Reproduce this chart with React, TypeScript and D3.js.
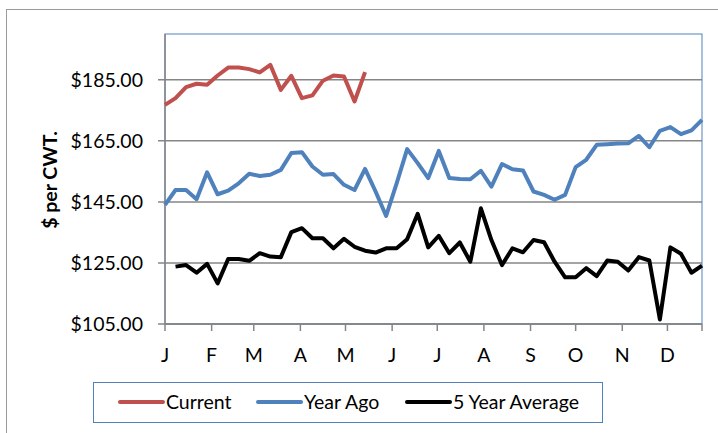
import React from 'react';
import * as d3 from 'd3';

// weekly prices, $ per CWT (one value per week, week 0 = Jan 1)
const currentValues: (number | null)[] = [
  176.8, 179.0, 182.6, 183.7, 183.4, 186.4, 189.0, 189.0, 188.5, 187.4,
  189.9, 181.7, 186.3, 179.0, 179.9, 184.7, 186.4, 186.1, 177.9, 187.5,
];

const yearAgoValues: (number | null)[] = [
  144.0, 148.9, 148.9, 145.9, 154.7, 147.5, 148.7, 151.1, 154.2, 153.5,
  153.9, 155.5, 161.0, 161.3, 156.6, 153.9, 154.1, 150.6, 148.9, 155.8,
  148.4, 140.4, 151.1, 162.3, 157.7, 152.8, 161.7, 152.8, 152.5, 152.4,
  155.2, 150.0, 157.4, 155.7, 155.3, 148.4, 147.3, 145.7, 147.3, 156.4,
  158.8, 163.7, 163.9, 164.1, 164.2, 166.6, 162.9, 168.3, 169.5, 167.2,
  168.4, 171.9,
];

const fiveYearValues: (number | null)[] = [
  null, 123.8, 124.3, 121.8, 124.7, 118.3, 126.3, 126.3, 125.7, 128.2,
  127.1, 126.9, 135.1, 136.4, 133.1, 133.1, 129.8, 132.9, 130.3, 129.0,
  128.4, 129.8, 129.8, 132.8, 141.1, 130.1, 133.9, 128.2, 131.7, 125.4,
  142.9, 132.5, 124.3, 129.8, 128.5, 132.5, 131.8, 125.4, 120.3, 120.3,
  123.3, 120.7, 125.8, 125.4, 122.5, 126.9, 125.8, 106.5, 130.1, 128.0,
  121.8, 124.1,
];

const monthStarts = [0, 31, 59, 90, 120, 151, 181, 212, 243, 273, 304, 334];
const monthLabels = ['J', 'F', 'M', 'A', 'M', 'J', 'J', 'A', 'S', 'O', 'N', 'D'];
const yTicks = [105, 125, 145, 165, 185];

const series = [
  {name: 'Current', values: currentValues, color: '#c0504d'},
  {name: 'Year Ago', values: yearAgoValues, color: '#4f81bd'},
  {name: '5 Year Average', values: fiveYearValues, color: '#000000'},
];

const FONT = 'Lato, "Open Sans", sans-serif';

export default function App() {
  const plot = {left: 165, top: 34, right: 702, bottom: 324};
  const lastDay = 357;

  const x = d3.scaleLinear().domain([0, lastDay]).range([plot.left, plot.right]);
  const y = d3.scaleLinear().domain([105, 200]).range([plot.bottom, plot.top]);

  const line = d3.line<number | null>()
      .defined((d) => d != null)
      .x((_, i) => x(i * 7))
      .y((d) => y(d as number));

  const xTicks = [...monthStarts, lastDay];
  const legendX = [120, 258, 407];

  return (
      <svg width={718} height={433}
           style={{position: 'absolute', left: 0, top: 0, background: '#fff'}}
           fontFamily={FONT}>
        {/* outer chart border */}
        <rect x={6.5} y={9.5} width={730} height={440} fill="#fff" stroke="#9a9a9a"/>

        {/* gridlines */}
        {yTicks.map((t) => (
            <line key={t} x1={plot.left - 7} x2={plot.right} y1={y(t)} y2={y(t)}
                  stroke="#868686" strokeWidth={1.5}/>
        ))}

        {/* plot area border */}
        <rect x={plot.left} y={plot.top} width={plot.right - plot.left}
              height={plot.bottom - plot.top} fill="none" stroke="#4f81bd" strokeWidth={1}/>

        {/* axes */}
        <line x1={plot.left} x2={plot.left} y1={plot.top} y2={plot.bottom + 1}
              stroke="#868686" strokeWidth={1.5}/>
        <line x1={plot.left} x2={plot.right} y1={plot.bottom} y2={plot.bottom}
              stroke="#868686" strokeWidth={1.5}/>
        {xTicks.map((d) => (
            <line key={d} x1={x(d)} x2={x(d)} y1={plot.bottom} y2={plot.bottom + 7}
                  stroke="#868686" strokeWidth={1.5}/>
        ))}

        {yTicks.map((t) => (
            <text key={t} x={143} y={y(t)} dy="0.35em" textAnchor="end"
                  fontSize={19.5} fill="#000">
              {d3.format('$.2f')(t)}
            </text>
        ))}
        {monthStarts.map((d, i) => (
            <text key={d} x={x(d)} y={355} dy="0.35em" textAnchor="middle"
                  fontSize={19.5} fill="#000">
              {monthLabels[i]}
            </text>
        ))}

        <text transform="translate(50,180) rotate(-90)" textAnchor="middle" dy="0.35em"
              fontSize={19.5} fontWeight="bold" fill="#000">$ per CWT.</text>

        {/* series */}
        {series.map((s) => (
            <path key={s.name} d={line(s.values) ?? ''} fill="none" stroke={s.color}
                  strokeWidth={4} strokeLinejoin="round"/>
        ))}

        {/* legend */}
        <rect x={93.5} y={382.5} width={509} height={40} fill="#fff" stroke="#4f81bd"/>
        {series.map((s, i) => (
            <g key={s.name}>
              <line x1={legendX[i]} x2={legendX[i] + 43} y1={402} y2={402}
                    stroke={s.color} strokeWidth={4} strokeLinecap="round"/>
              <text x={legendX[i] + 46} y={402} dy="0.35em" fontSize={19.5} fill="#000">
                {s.name}
              </text>
            </g>
        ))}
      </svg>
  );
}
